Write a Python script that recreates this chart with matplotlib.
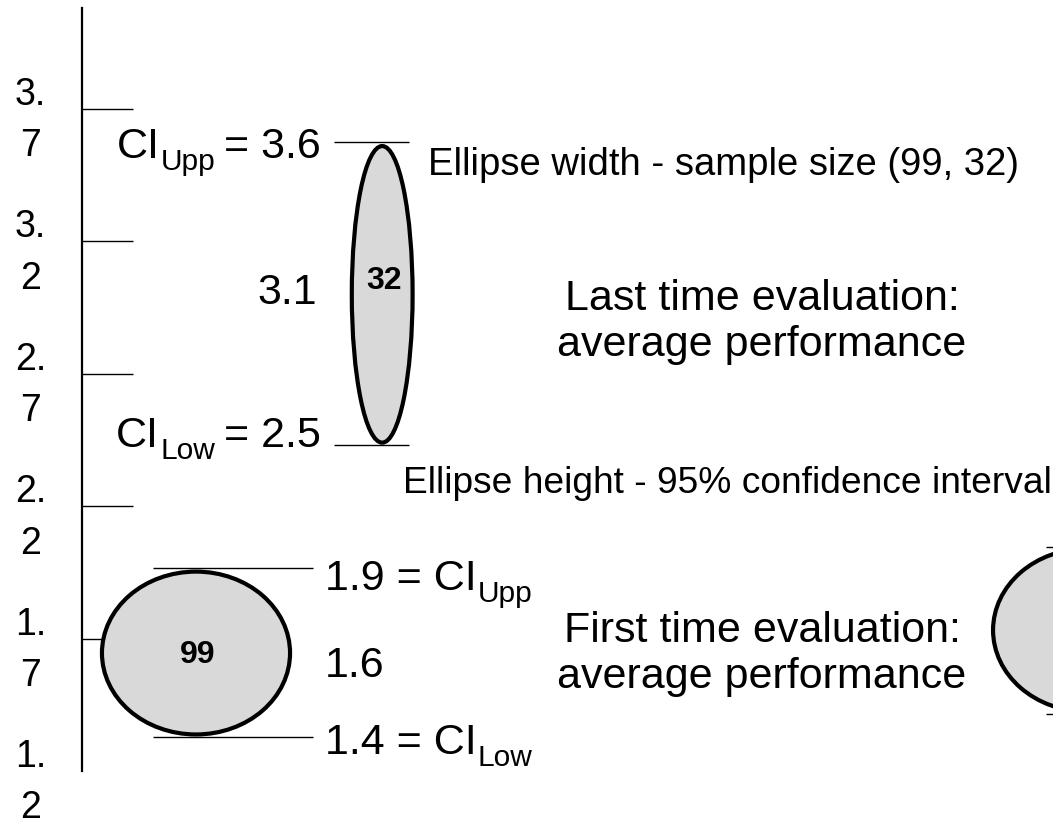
import matplotlib
matplotlib.use("Agg")
import matplotlib.pyplot as plt
from matplotlib.patches import Ellipse
from matplotlib.transforms import IdentityTransform

plt.rcParams['font.family'] = ['Liberation Sans', 'DejaVu Sans']

# ---- data ----
tick_values = [1.2, 1.7, 2.2, 2.7, 3.2, 3.7]
tick_labels = ["1.\n2", "1.\n7", "2.\n2", "2.\n7", "3.\n2", "3.\n7"]

evaluations = ["First time", "Last time", "(cut off)"]
sample_size = [99, 32, 99]            # ellipse width
x_center = [60, 158, 529]             # horizontal placement (sample-size units)
ellipse_top = [1.953, 3.560, 2.040]   # drawn top of each ellipse (axis units)
ellipse_bottom = [1.338, 2.440, 1.424]
line_upper = [1.968, 3.575, 2.047]    # drawn CI marker lines
line_lower = [1.330, 2.431, 1.417]
ci_upper_label = [1.9, 3.6]
ci_mean_label = [1.6, 3.1]
ci_lower_label = [1.4, 2.5]

W, H = 1053, 821
fig = plt.figure(figsize=(W / 100, H / 100), dpi=100)
ax_left, ax_right, ax_top, ax_bottom = 82, 1053, 8, 771
ax = fig.add_axes([ax_left / W, (H - ax_bottom) / H,
                   (ax_right - ax_left) / W, (ax_bottom - ax_top) / H])
ax.set_xlim(0, (ax_right - ax_left) / 1.9)
ax.set_ylim(1.2, 3.7 + (109 - ax_top) / 264.8)

for s in ['top', 'right', 'bottom']:
    ax.spines[s].set_visible(False)
ax.spines['left'].set_linewidth(1.6)
ax.set_xticks([])
ax.set_yticks(tick_values, tick_labels)
ax.tick_params(axis='y', direction='in', length=36.7, width=1.0,
               labelsize=27, pad=26)
for lab in ax.get_yticklabels():
    lab.set_multialignment('center')
    lab.set_linespacing(1.55)
ax.yaxis.get_major_ticks()[0].tick1line.set_visible(False)


def px(xp, yp):
    """figure pixel (from top-left) -> data coords"""
    return ax.transData.inverted().transform((xp, H - yp))


# ellipses
for i in range(len(sample_size)):
    cy = (ellipse_top[i] + ellipse_bottom[i]) / 2
    h = ellipse_top[i] - ellipse_bottom[i]
    e = Ellipse((x_center[i], cy), sample_size[i], h, facecolor='#d9d9d9',
                edgecolor='black', linewidth=3.0, zorder=3)
    ax.add_patch(e)

# CI marker lines (x extents relative to the ellipse centre, in width units)
line_span = [(-0.23, 0.62), (-0.80, 0.44), (-0.22, 0.2)]
for i in range(len(sample_size)):
    x0 = x_center[i] + line_span[i][0] * sample_size[i]
    x1 = x_center[i] + line_span[i][1] * sample_size[i]
    for yv in (line_upper[i], line_lower[i]):
        ax.plot([x0, x1], [yv, yv], color='black', lw=1.0, zorder=2,
                solid_capstyle='butt')

# sample-size labels
for i in range(2):
    cy = (ellipse_top[i] + ellipse_bottom[i]) / 2
    ax.text(x_center[i] + 0.8, cy + (0.05 if i == 1 else -0.008),
            str(sample_size[i]), ha='center', va='center', fontsize=23,
            fontweight='bold', zorder=4)

renderer = fig.canvas.get_renderer()


def text_width(s, fs):
    t = fig.text(0, 0, s, fontsize=fs)
    w = t.get_window_extent(renderer).width
    t.remove()
    return w


def compose(x_px, y_px, pieces, ha='left'):
    """pieces: (string, fontsize, drop_px, gap_before_px); y_px is baseline"""
    widths = [text_width(p[0], p[1]) for p in pieces]
    total = sum(widths) + sum(p[3] for p in pieces)
    x = x_px if ha == 'left' else x_px - total
    for (s, fs, dy, gap), w in zip(pieces, widths):
        x += gap
        fig.text(x, H - (y_px + dy), s, fontsize=fs, ha='left',
                 va='baseline', transform=IdentityTransform())
        x += w


fs = 31
sub = 21.5
space = 0.278 * fs * 100 / 72
drop = 12

# last-time labels (left of the ellipse)
compose(321, 158, [("CI", fs, 0, 0), ("Upp", sub, drop, 1),
                   (f"= {ci_upper_label[1]}", fs, 0, space - 3)], ha='right')
compose(317, 304, [(f"{ci_mean_label[1]}", fs, 0, 0)], ha='right')
compose(321, 447, [("CI", fs, 0, 0), ("Low", sub, drop, 1),
                   (f"= {ci_lower_label[1]}", fs, 0, space - 3)], ha='right')
# first-time labels (right of the ellipse)
compose(325, 590, [(f"{ci_upper_label[0]} = CI", fs, 0, 0),
                   ("Upp", sub, drop, 1)])
compose(325, 677, [(f"{ci_mean_label[0]}", fs, 0, 0)])
compose(325, 754, [(f"{ci_lower_label[0]} = CI", fs, 0, 0),
                   ("Low", sub, drop, 1)])

# explanatory texts
x, y = px(428, 175)
ax.text(x, y, 'Ellipse width - sample size (99, 32)', ha='left',
        va='baseline', fontsize=27.5)
x, y = px(403, 493)
ax.text(x, y, 'Ellipse height - 95% confidence interval', ha='left',
        va='baseline', fontsize=26.7, clip_on=False)
x, y = px(762, 322)
ax.text(x, y, 'Last time evaluation:\naverage performance', ha='center',
        va='center', fontsize=fs, linespacing=1.2)
x, y = px(762, 654)
ax.text(x, y, 'First time evaluation:\naverage performance', ha='center',
        va='center', fontsize=fs, linespacing=1.2)

fig.savefig('out.png', dpi=100)
